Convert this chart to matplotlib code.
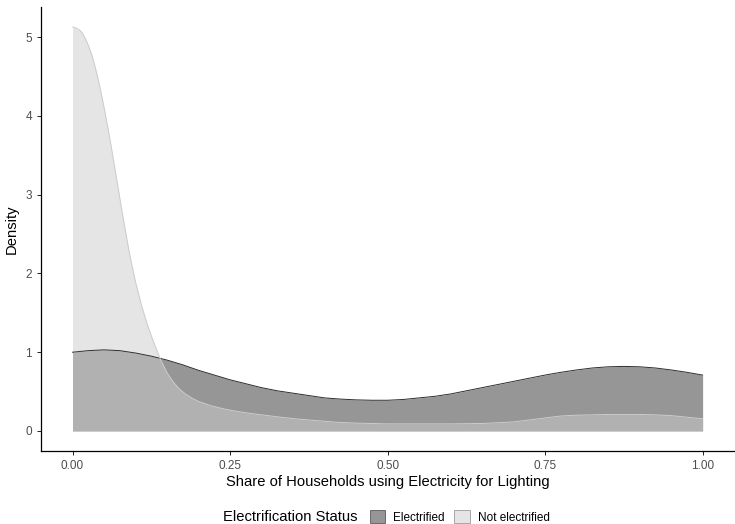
import matplotlib
matplotlib.use('Agg')
import matplotlib.pyplot as plt
from matplotlib.patches import Patch

plt.rcParams['font.family'] = ['Liberation Sans', 'DejaVu Sans']

# density estimates, read along the share axis
share_elec = [0.00, 0.025, 0.05, 0.075, 0.10, 0.125, 0.15, 0.175, 0.20, 0.225,
              0.25, 0.275, 0.30, 0.325, 0.35, 0.375, 0.40, 0.425, 0.45, 0.475,
              0.50, 0.525, 0.55, 0.575, 0.60, 0.625, 0.65, 0.675, 0.70, 0.725,
              0.75, 0.775, 0.80, 0.825, 0.85, 0.875, 0.90, 0.925, 0.95, 0.975, 1.00]
dens_elec = [1.00, 1.02, 1.03, 1.02, 0.99, 0.95, 0.90, 0.84, 0.77, 0.71,
             0.65, 0.60, 0.55, 0.51, 0.48, 0.45, 0.42, 0.405, 0.395, 0.39,
             0.39, 0.40, 0.42, 0.44, 0.47, 0.51, 0.55, 0.59, 0.63, 0.67,
             0.71, 0.745, 0.775, 0.80, 0.815, 0.82, 0.815, 0.80, 0.775, 0.745, 0.71]

share_nonelec = [0.00, 0.005, 0.01, 0.015, 0.02, 0.025, 0.03, 0.035, 0.04, 0.045,
                 0.05, 0.06, 0.07, 0.08, 0.09,
                 0.10, 0.11, 0.12, 0.13, 0.14, 0.15, 0.16, 0.17, 0.18, 0.19,
                 0.20, 0.22, 0.24, 0.26, 0.28, 0.30, 0.33, 0.36, 0.39, 0.42,
                 0.45, 0.50, 0.55, 0.60, 0.65, 0.70, 0.725, 0.75, 0.775, 0.80,
                 0.85, 0.90, 0.925, 0.95, 0.975, 1.00]
dens_nonelec = [5.13, 5.12, 5.10, 5.06, 4.99, 4.90, 4.79, 4.65, 4.49, 4.31,
                4.11, 3.68, 3.20, 2.72, 2.27,
                1.89, 1.58, 1.32, 1.10, 0.90, 0.74, 0.62, 0.53, 0.465, 0.415,
                0.375, 0.32, 0.28, 0.25, 0.225, 0.205, 0.175, 0.15, 0.13, 0.11,
                0.10, 0.09, 0.09, 0.09, 0.095, 0.115, 0.14, 0.165, 0.19, 0.20,
                0.21, 0.21, 0.205, 0.195, 0.175, 0.155]

groups = ['Electrified', 'Not electrified']
fills = ['#2e2e2e', '#cccccc']

x_ticks = [0, 0.25, 0.5, 0.75, 1.0]
x_labels = ['0.00', '0.25', '0.50', '0.75', '1.00']
y_ticks = [0, 1, 2, 3, 4, 5]

fig = plt.figure(figsize=(7.35, 5.24), dpi=100)
ax = fig.add_axes([0.0558, 0.139, 0.943, 0.848])

for xs, ys, col in [(share_elec, dens_elec, fills[0]), (share_nonelec, dens_nonelec, fills[1])]:
    ax.fill_between(xs, ys, 0, color=col, alpha=0.5, linewidth=0)
    ax.plot(xs, ys, color=col, linewidth=0.7)

ax.set_xlim(-0.05, 1.05)
ax.set_ylim(-0.2565, 5.3865)
ax.set_xticks(x_ticks)
ax.set_xticklabels(x_labels)
ax.set_yticks(y_ticks)
ax.tick_params(labelsize=8.5, labelcolor='#4d4d4d', color='black', length=3, width=0.6)
for s in ['top', 'right']:
    ax.spines[s].set_visible(False)
for s in ['left', 'bottom']:
    ax.spines[s].set_linewidth(0.9)

ax.set_xlabel('Share of Households using Electricity for Lighting', fontsize=10.6, labelpad=2)
ax.set_ylabel('Density', fontsize=10.6, labelpad=5)

# legend: title on the left, keys on the right
fig.text(0.486, 1 - 517/524, 'Electrification Status', fontsize=10.6,
         ha='right', va='center')
handles = [Patch(facecolor='#969696', edgecolor='#5a5a5a', linewidth=0.6),
           Patch(facecolor='#e5e5e5', edgecolor='#9a9a9a', linewidth=0.6)]
fig.legend(handles, groups, loc='center left', bbox_to_anchor=(0.503, 1 - 517/524),
           ncol=2, frameon=False, fontsize=8.5, handlelength=1.3, handleheight=1.3,
           handletextpad=0.7, columnspacing=0.8, borderpad=0, borderaxespad=0)

fig.savefig('out.png', dpi=100)
